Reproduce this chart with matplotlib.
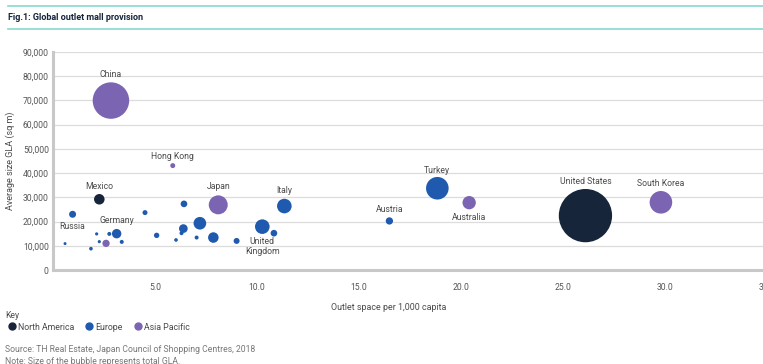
import numpy as np
import matplotlib
matplotlib.use("Agg")
import matplotlib.pyplot as plt
from matplotlib.lines import Line2D
import matplotlib.ticker as ticker

plt.rcParams['font.family'] = ['Roboto', 'DejaVu Sans']

# country, region, outlet space per 1,000 capita, average size GLA (sq m), total GLA ('000 sq m)
names = ["United States", "Mexico",
         "China", "Hong Kong", "Japan", "Australia", "South Korea", "",
         "Russia", "Germany", "Italy", "United Kingdom", "Turkey", "Austria",
         "", "", "", "", "", "", "", "", "", "", "", "", "", "", "", "", ""]
regions = ["NA", "NA",
           "AP", "AP", "AP", "AP", "AP", "AP",
           "EU", "EU", "EU", "EU", "EU", "EU",
           "EU", "EU", "EU", "EU", "EU", "EU", "EU", "EU", "EU", "EU", "EU", "EU", "EU", "EU", "EU", "EU", "EU"]
space = [26.1, 2.27,
         2.84, 5.87, 8.1, 20.4, 29.8, 2.6,
         0.96, 3.12, 11.34, 10.26, 18.84, 16.49,
         0.59, 1.86, 2.14, 2.27, 2.76, 3.37, 4.51, 5.08, 6.03, 6.3, 6.39, 6.42, 7.04, 7.2, 7.86, 9.0, 10.83]
avg_size = [22450, 29200,
            69950, 43100, 26900, 27800, 27950, 11000,
            23000, 15000, 26400, 17900, 33750, 20250,
            10900, 8800, 14900, 11700, 14900, 11600, 23700, 14300, 12400, 15200, 17100, 27300, 13400, 19300, 13400, 12000, 15200]
total_gla = [6400, 250,
             3000, 56, 810, 400, 1150, 120,
             110, 200, 480, 480, 1150, 120,
             20, 30, 23, 23, 36, 36, 56, 65, 30, 36, 170, 100, 36, 360, 250, 80, 100]

region_names = {"NA": "North America", "EU": "Europe", "AP": "Asia Pacific"}
colors = {"NA": "#16253a", "EU": "#1f5aae", "AP": "#7b64b2"}

# label offsets in points (dx, dy)
label_off = {"China": (0, 18.5), "Hong Kong": (0, 6.5), "Mexico": (0, 9.5),
             "Russia": (0, -9), "Germany": (0, 9.5), "Japan": (0, 13),
             "Italy": (0, 11.5), "United Kingdom": (0, -14.5), "Turkey": (0, 12.5),
             "Austria": (0, 8), "Australia": (0, -10.5), "United States": (0, 24.5),
             "South Korea": (0, 13.5)}

fig = plt.figure(figsize=(7.63, 3.64), dpi=100)
W, H = 763.0, 364.0
ax = fig.add_axes([53 / W, 1 - 270 / H, 714 / W, 218 / H])
ax.set_xlim(0, 35)
ax.set_ylim(0, 90000)

order = np.argsort(total_gla)[::-1]
for i in order:
    ax.scatter(space[i], avg_size[i], s=total_gla[i] * 0.23, color=colors[regions[i]],
               edgecolors="none", zorder=3)
for i, n in enumerate(names):
    if n:
        dx, dy = label_off[n]
        ax.annotate(n.replace("United Kingdom", "United\nKingdom"), (space[i], avg_size[i]),
                    xytext=(dx, dy), textcoords="offset points", ha="center", va="center",
                    fontsize=6.2, color="#4a4a4a", zorder=4, linespacing=1.1)

ax.yaxis.set_major_locator(ticker.MultipleLocator(10000))
ax.yaxis.set_major_formatter(ticker.FuncFormatter(lambda v, p: "{:,.0f}".format(v)))
ax.set_xticks([5, 10, 15, 20, 25, 30, 35])
ax.xaxis.set_major_formatter(ticker.FormatStrFormatter("%.1f"))
ax.tick_params(length=0, labelsize=6.2, colors="#555555")
ax.tick_params(axis="x", pad=9)
ax.tick_params(axis="y", pad=3)
ax.grid(axis="y", color="#dcdcdc", lw=0.9)
ax.set_axisbelow(True)
for s in ["top", "right"]:
    ax.spines[s].set_visible(False)
ax.spines["left"].set_color("#c8c8c8")
ax.spines["left"].set_linewidth(2.2)
ax.spines["bottom"].set_color("#c8c8c8")
ax.spines["bottom"].set_linewidth(2.2)

fig.text(10 / W, 1 - 161 / H, "Average size GLA (sq m)", rotation=90, ha="center", va="center",
         fontsize=6.5, color="#4a4a4a")
fig.text(389 / W, 1 - 307 / H, "Outlet space per 1,000 capita", ha="center", va="center",
         fontsize=6.4, color="#4a4a4a")

# header
fig.add_artist(Line2D([8 / W, 1], [1 - 6 / H, 1 - 6 / H], color="#86d8cf", lw=1.2))
fig.add_artist(Line2D([8 / W, 1], [1 - 29 / H, 1 - 29 / H], color="#86d8cf", lw=1.2))
fig.text(8 / W, 1 - 17 / H, "Fig.1: Global outlet mall provision", ha="left", va="center",
         fontsize=6.5, fontweight="bold", color="#16253a")

# key
fig.text(5 / W, 1 - 316 / H, "Key", ha="left", va="center", fontsize=6.2, color="#4a4a4a")
handles = [Line2D([], [], marker="o", ls="none", color=colors[k], markersize=5, label=region_names[k])
           for k in ["NA", "EU", "AP"]]
fig.legend(handles=handles, loc="center left", bbox_to_anchor=(4 / W, 1 - 327 / H), ncol=3,
           frameon=False, fontsize=6.3, handletextpad=0.1, columnspacing=1.1,
           borderaxespad=0, borderpad=0.3, handlelength=1.2, labelcolor="#4a4a4a")

fig.text(5 / W, 1 - 350 / H, "Source: TH Real Estate, Japan Council of Shopping Centres, 2018",
         ha="left", va="center", fontsize=6.2, color="#777777")
fig.text(5 / W, 1 - 361 / H, "Note: Size of the bubble represents total GLA.",
         ha="left", va="center", fontsize=6.2, color="#777777")

fig.savefig("out.png", dpi=100)
